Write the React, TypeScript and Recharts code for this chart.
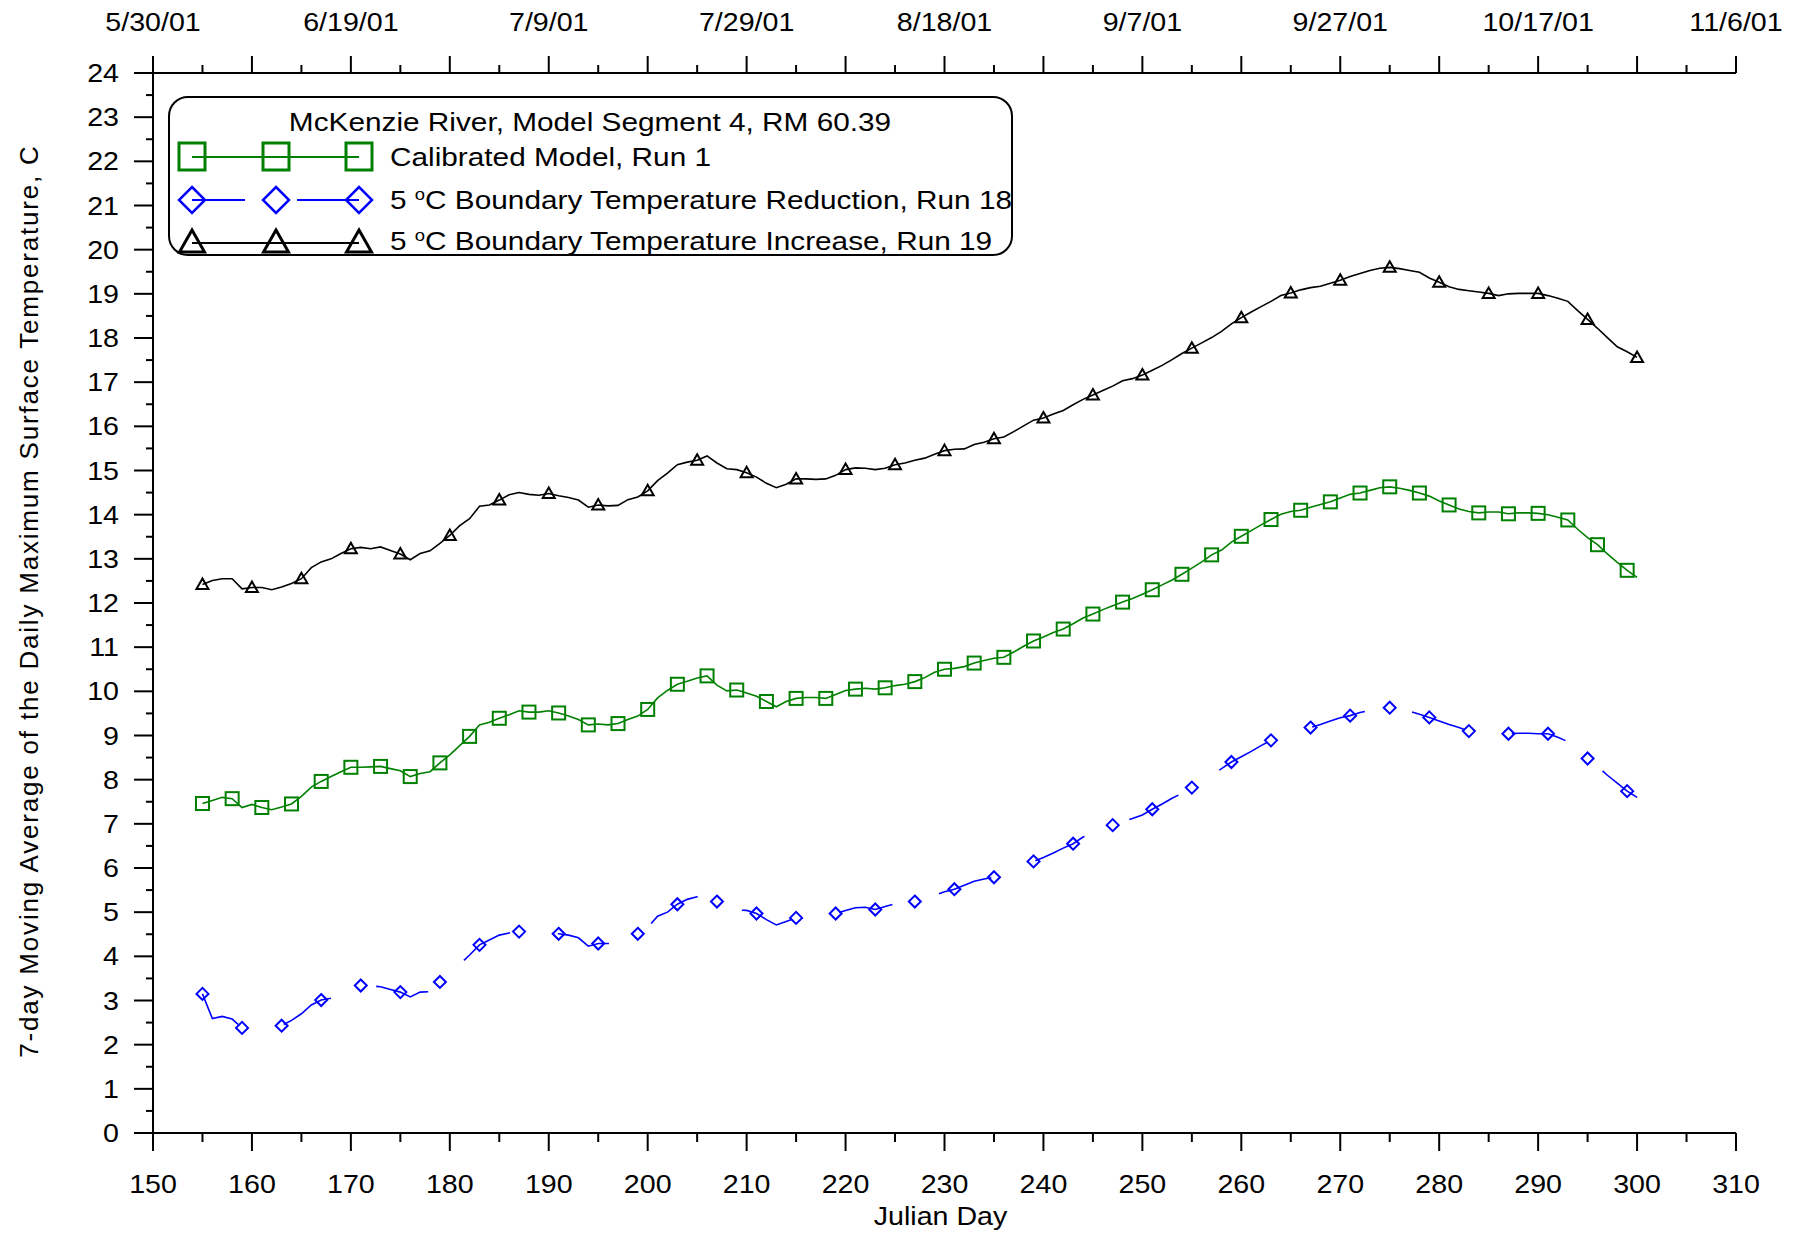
import { Label, Legend, Line, LineChart, XAxis, YAxis } from "recharts";

// Julian day of the first point in every series (one value per day after that)
const FIRST_DAY = 155;

// Calibrated Model, Run 1
const run1 = [
  7.46, 7.53, 7.6, 7.57, 7.37, 7.44, 7.37, 7.32, 7.38, 7.45,
  7.62, 7.83, 7.96, 8.07, 8.18, 8.28, 8.28, 8.29, 8.3, 8.25,
  8.2, 8.07, 8.14, 8.18, 8.38, 8.56, 8.77, 8.98, 9.24, 9.3,
  9.39, 9.47, 9.56, 9.53, 9.53, 9.56, 9.51, 9.44, 9.36, 9.24,
  9.26, 9.24, 9.27, 9.36, 9.44, 9.59, 9.85, 10.02, 10.16, 10.23,
  10.3, 10.35, 10.14, 10.01, 10.03, 9.96, 9.89, 9.77, 9.65, 9.77,
  9.84, 9.86, 9.86, 9.84, 9.93, 10.02, 10.05, 10.07, 10.05, 10.08,
  10.13, 10.16, 10.22, 10.31, 10.43, 10.5, 10.52, 10.56, 10.64, 10.7,
  10.75, 10.77, 10.89, 11.02, 11.14, 11.23, 11.33, 11.41, 11.53, 11.66,
  11.75, 11.85, 11.94, 12.02, 12.1, 12.2, 12.3, 12.41, 12.52, 12.65,
  12.79, 12.93, 13.09, 13.2, 13.38, 13.51, 13.64, 13.77, 13.89, 14.01,
  14.07, 14.1, 14.17, 14.23, 14.29, 14.38, 14.46, 14.49, 14.55, 14.61,
  14.63, 14.6, 14.55, 14.49, 14.42, 14.31, 14.22, 14.13, 14.07, 14.04,
  14.06, 14.06, 14.02, 14.04, 14.04, 14.03, 14.0, 13.94, 13.88, 13.67,
  13.48, 13.32, 13.11, 12.92, 12.74, 12.58,
];

// 5 oC Boundary Temperature Reduction, Run 18
const run18 = [
  3.15, 2.59, 2.64, 2.58, 2.38, 2.42, 2.36, 2.38, 2.43, 2.55,
  2.7, 2.9, 3.01, 3.05, 3.15, 3.27, 3.34, 3.33, 3.31, 3.25,
  3.19, 3.08, 3.19, 3.2, 3.42, 3.6, 3.82, 4.03, 4.26, 4.37,
  4.48, 4.53, 4.56, 4.55, 4.52, 4.51, 4.51, 4.48, 4.42, 4.23,
  4.29, 4.29, 4.3, 4.38, 4.51, 4.65, 4.91, 5.0, 5.18, 5.29,
  5.35, 5.38, 5.24, 5.1, 5.05, 5.04, 4.97, 4.83, 4.71, 4.79,
  4.87, 4.88, 4.88, 4.88, 4.97, 5.04, 5.1, 5.11, 5.06, 5.13,
  5.19, 5.22, 5.24, 5.3, 5.38, 5.46, 5.52, 5.61, 5.7, 5.75,
  5.79, 5.8, 5.9, 6.0, 6.15, 6.24, 6.34, 6.45, 6.55, 6.7,
  6.77, 6.85, 6.97, 7.05, 7.12, 7.2, 7.33, 7.45, 7.58, 7.69,
  7.82, 7.95, 8.1, 8.25, 8.4, 8.52, 8.64, 8.77, 8.89, 8.98,
  9.05, 9.1, 9.18, 9.25, 9.33, 9.4, 9.45, 9.52, 9.57, 9.61,
  9.63, 9.6, 9.55, 9.48, 9.41, 9.33, 9.25, 9.18, 9.1, 9.09,
  9.09, 9.07, 9.04, 9.05, 9.05, 9.04, 9.04, 8.96, 8.86, 8.67,
  8.48, 8.3, 8.1, 7.92, 7.74, 7.6,
];

// 5 oC Boundary Temperature Increase, Run 19
const run19 = [
  12.42, 12.51, 12.55, 12.55, 12.32, 12.35, 12.35, 12.3, 12.36, 12.44,
  12.55, 12.8, 12.93, 13.0, 13.12, 13.23, 13.26, 13.23, 13.27, 13.19,
  13.11, 12.98, 13.12, 13.18, 13.35, 13.53, 13.75, 13.91, 14.19, 14.22,
  14.33, 14.45, 14.5, 14.46, 14.44, 14.48, 14.43, 14.39, 14.33, 14.17,
  14.22, 14.2, 14.21, 14.34, 14.4, 14.54, 14.77, 14.94, 15.13, 15.19,
  15.23, 15.33, 15.17, 15.04, 15.02, 14.95, 14.85, 14.71, 14.61, 14.69,
  14.81, 14.81, 14.8, 14.81, 14.89, 15.02, 15.06, 15.05, 15.02, 15.05,
  15.13, 15.17, 15.23, 15.28, 15.37, 15.45, 15.48, 15.49, 15.59, 15.64,
  15.72, 15.76, 15.88, 16.01, 16.14, 16.19, 16.28, 16.36, 16.49, 16.61,
  16.71, 16.81, 16.91, 17.03, 17.08, 17.16, 17.27, 17.38, 17.51, 17.65,
  17.77, 17.89, 18.01, 18.15, 18.32, 18.46, 18.59, 18.71, 18.83, 18.96,
  19.02, 19.09, 19.14, 19.17, 19.24, 19.31, 19.39, 19.46, 19.53, 19.58,
  19.6, 19.57, 19.53, 19.49, 19.36, 19.26, 19.16, 19.1, 19.07, 19.04,
  19.01, 18.96, 19.0, 19.01, 19.01, 19.01, 18.96, 18.9, 18.83, 18.62,
  18.42, 18.22, 18.01, 17.8, 17.69, 17.56,
];

const xTicks = [
  150, 155, 160, 165, 170, 175, 180, 185, 190, 195, 200, 205, 210, 215, 220, 225, 230,
  235, 240, 245, 250, 255, 260, 265, 270, 275, 280, 285, 290, 295, 300, 305, 310,
];
const yTicks = [
  0, 0.5, 1, 1.5, 2, 2.5, 3, 3.5, 4, 4.5, 5, 5.5, 6, 6.5, 7, 7.5, 8, 8.5, 9, 9.5, 10, 10.5,
  11, 11.5, 12, 12.5, 13, 13.5, 14, 14.5, 15, 15.5, 16, 16.5, 17, 17.5, 18, 18.5, 19, 19.5,
  20, 20.5, 21, 21.5, 22, 22.5, 23, 23.5, 24,
];
const dateTickDays = [150, 170, 190, 210, 230, 250, 270, 290, 310];
const dateTickLabels = ["5/30/01", "6/19/01", "7/9/01", "7/29/01", "8/18/01", "9/7/01", "9/27/01", "10/17/01", "11/6/01"];

const legendTitle = "McKenzie River, Model Segment 4, RM 60.39";
const xTitle = "Julian Day";
const yTitle = "7-day Moving Average of the Daily Maximum Surface Temperature, C";

const GREEN = "#008000";
const BLUE = "#0000ff";
const BLACK = "#000000";
const FONT = '"Liberation Sans", Arial, sans-serif';
const STRETCH = 1.1;
const LEGEND_STRETCH = 1.145;

const data = run1.map((value, i) => ({
  day: FIRST_DAY + i,
  run1: value,
  run18: run18[i],
  run19: run19[i],
}));

function BottomTick({ x, y, payload }: any) {
  const value = payload.value;
  const major = value % 10 === 0;
  return (
    <g>
      <line x1={x} x2={x} y1={y} y2={y + (major ? 18 : 9)} stroke={BLACK} strokeWidth={2} />
      {major && (
        <text
          transform={`translate(${x},${y + 51}) scale(${STRETCH},1)`}
          textAnchor="middle"
          dominantBaseline="central"
          fontSize={26}
          fontFamily={FONT}
          fill={BLACK}
        >
          {value}
        </text>
      )}
    </g>
  );
}

function TopTick({ x, y, payload }: any) {
  const value = payload.value;
  const major = value % 10 === 0;
  const labelIndex = dateTickDays.indexOf(value);
  return (
    <g>
      <line x1={x} x2={x} y1={y} y2={y - (major ? 17 : 8)} stroke={BLACK} strokeWidth={2} />
      {labelIndex >= 0 && (
        <text
          transform={`translate(${x},${y - 51}) scale(${STRETCH},1)`}
          textAnchor="middle"
          dominantBaseline="central"
          fontSize={26}
          fontFamily={FONT}
          fill={BLACK}
        >
          {dateTickLabels[labelIndex]}
        </text>
      )}
    </g>
  );
}

function LeftTick({ x, y, payload }: any) {
  const value = payload.value;
  const major = Number.isInteger(value);
  return (
    <g>
      <line x1={x - (major ? 19 : 7)} x2={x} y1={y} y2={y} stroke={BLACK} strokeWidth={2} />
      {major && (
        <text
          transform={`translate(${x - 34},${y}) scale(${STRETCH},1)`}
          textAnchor="end"
          dominantBaseline="central"
          fontSize={26}
          fontFamily={FONT}
          fill={BLACK}
        >
          {value}
        </text>
      )}
    </g>
  );
}

// markers are only drawn on every 3rd / 4th / 5th day, like the original plot
function squareDot(props: any) {
  const { cx, cy, index } = props;
  if (index % 3 !== 0 || cx == null || cy == null) return <g key={`sq-${index}`} />;
  return (
    <rect key={`sq-${index}`} x={cx - 6.5} y={cy - 6.5} width={13} height={13} fill="none" stroke={GREEN} strokeWidth={2} />
  );
}

function diamondDot(props: any) {
  const { cx, cy, index } = props;
  if (index % 4 !== 0 || cx == null || cy == null) return <g key={`dm-${index}`} />;
  return (
    <polygon
      key={`dm-${index}`}
      points={`${cx},${cy - 6} ${cx + 6},${cy} ${cx},${cy + 6} ${cx - 6},${cy}`}
      fill="none"
      stroke={BLUE}
      strokeWidth={2}
      strokeDasharray="none"
    />
  );
}

function triangleDot(props: any) {
  const { cx, cy, index } = props;
  if (index % 5 !== 0 || cx == null || cy == null) return <g key={`tr-${index}`} />;
  return (
    <polygon
      key={`tr-${index}`}
      points={`${cx},${cy - 6} ${cx + 6},${cy + 4.5} ${cx - 6},${cy + 4.5}`}
      fill="none"
      stroke={BLACK}
      strokeWidth={2}
    />
  );
}

function LegendText({ children }: { children: React.ReactNode }) {
  return (
    <span style={{ display: "inline-block", transform: `scaleX(${LEGEND_STRETCH})`, transformOrigin: "left center", whiteSpace: "nowrap" }}>
      {children}
    </span>
  );
}

const degree = <span style={{ fontSize: "62%", position: "relative", top: "-0.55em" }}>o</span>;

function LegendBox() {
  const symX = [22, 106, 189];
  const rowStyle = (center: number) => ({
    position: "absolute" as const,
    left: 0,
    top: center - 20,
    height: 40,
    width: 840,
    display: "flex",
    alignItems: "center",
  });
  return (
    <div
      style={{
        position: "relative",
        width: 845,
        height: 160,
        boxSizing: "border-box",
        border: "2px solid #000",
        borderRadius: 20,
        background: "#fff",
        fontFamily: FONT,
        fontSize: 26,
        color: BLACK,
      }}
    >
      <div style={{ position: "absolute", left: 0, right: 0, top: 9, height: 30, lineHeight: "30px", textAlign: "center" }}>
        <span style={{ display: "inline-block", transform: `scaleX(${LEGEND_STRETCH})`, whiteSpace: "nowrap" }}>{legendTitle}</span>
      </div>

      <div style={rowStyle(59)}>
        <svg width={220} height={40} style={{ flex: "none" }}>
          <line x1={symX[0]} x2={symX[2]} y1={20} y2={20} stroke={GREEN} strokeWidth={2} />
          {symX.map((sx) => (
            <rect key={sx} x={sx - 13} y={6} width={26} height={27} fill="none" stroke={GREEN} strokeWidth={3} />
          ))}
        </svg>
        <LegendText>Calibrated Model, Run 1</LegendText>
      </div>

      <div style={rowStyle(102)}>
        <svg width={220} height={40} style={{ flex: "none" }}>
          <line x1={symX[0]} x2={75} y1={20} y2={20} stroke={BLUE} strokeWidth={2} />
          <line x1={127} x2={symX[2]} y1={20} y2={20} stroke={BLUE} strokeWidth={2} />
          {symX.map((sx) => (
            <polygon key={sx} points={`${sx},${7} ${sx + 13},${20} ${sx},${33} ${sx - 13},${20}`} fill="none" stroke={BLUE} strokeWidth={2.5} />
          ))}
        </svg>
        <LegendText>5 {degree}C Boundary Temperature Reduction, Run 18</LegendText>
      </div>

      <div style={rowStyle(143)}>
        <svg width={220} height={40} style={{ flex: "none" }}>
          <line x1={symX[0]} x2={symX[2]} y1={22} y2={22} stroke={BLACK} strokeWidth={2} />
          {symX.map((sx) => (
            <polygon key={sx} points={`${sx},${9} ${sx + 12.5},${31} ${sx - 12.5},${31}`} fill="none" stroke={BLACK} strokeWidth={3} />
          ))}
        </svg>
        <LegendText>5 {degree}C Boundary Temperature Increase, Run 19</LegendText>
      </div>
    </div>
  );
}

export default function App() {
  const axisLine = { stroke: BLACK, strokeWidth: 2 };
  return (
    <div style={{ width: 1787, height: 1226, background: "#fff", fontFamily: FONT }}>
      <LineChart width={1787} height={1226} data={data} margin={{ top: 5, right: 59, bottom: 21, left: 0 }}>
        <XAxis
          xAxisId="top"
          orientation="top"
          dataKey="day"
          type="number"
          domain={[150, 310]}
          ticks={xTicks}
          interval={0}
          height={60}
          tickSize={0}
          tickMargin={0}
          tickLine={false}
          axisLine={axisLine}
          tick={(p: any) => <TopTick {...p} />}
        />
        <XAxis
          xAxisId="bottom"
          orientation="bottom"
          dataKey="day"
          type="number"
          domain={[150, 310]}
          ticks={xTicks}
          interval={0}
          height={80}
          tickSize={0}
          tickMargin={0}
          tickLine={false}
          axisLine={axisLine}
          tick={(p: any) => <BottomTick {...p} />}
        >
          <Label
            content={(props: any) => {
              const vb = props.viewBox ?? { x: 145, y: 1125, width: 1583, height: 80 };
              return (
                <text
                  transform={`translate(${vb.x + vb.width / 2 - 4},${vb.y + 83}) scale(${STRETCH},1)`}
                  textAnchor="middle"
                  dominantBaseline="central"
                  fontSize={26}
                  fontFamily={FONT}
                  fill={BLACK}
                >
                  {xTitle}
                </text>
              );
            }}
          />
        </XAxis>
        <YAxis
          domain={[0, 24]}
          ticks={yTicks}
          interval={0}
          width={145}
          tickSize={0}
          tickMargin={0}
          tickLine={false}
          axisLine={axisLine}
          tick={(p: any) => <LeftTick {...p} />}
        >
          <Label
            content={(props: any) => {
              const vb = props.viewBox ?? { x: 0, y: 65, width: 145, height: 1060 };
              const cx = vb.x + 21;
              const cy = vb.y + vb.height / 2 - 2;
              return (
                <text
                  x={cx}
                  y={cy}
                  transform={`rotate(-90, ${cx}, ${cy})`}
                  textAnchor="middle"
                  dominantBaseline="central"
                  fontSize={26}
                  letterSpacing={1.8}
                  fontFamily={FONT}
                  fill={BLACK}
                >
                  {yTitle}
                </text>
              );
            }}
          />
        </YAxis>
        <Legend
          layout="vertical"
          align="center"
          verticalAlign="middle"
          wrapperStyle={{ left: 160, top: 88, width: 845, height: 160 }}
          content={() => <LegendBox />}
        />
        <Line
          xAxisId="bottom"
          type="linear"
          dataKey="run19"
          stroke={BLACK}
          strokeWidth={1.6}
          dot={triangleDot}
          activeDot={false}
          isAnimationActive={false}
        />
        <Line
          xAxisId="bottom"
          type="linear"
          dataKey="run1"
          stroke={GREEN}
          strokeWidth={1.6}
          dot={squareDot}
          activeDot={false}
          isAnimationActive={false}
        />
        <Line
          xAxisId="bottom"
          type="linear"
          dataKey="run18"
          stroke={BLUE}
          strokeWidth={1.6}
          strokeDasharray="55 48"
          dot={diamondDot}
          activeDot={false}
          isAnimationActive={false}
        />
      </LineChart>
    </div>
  );
}
